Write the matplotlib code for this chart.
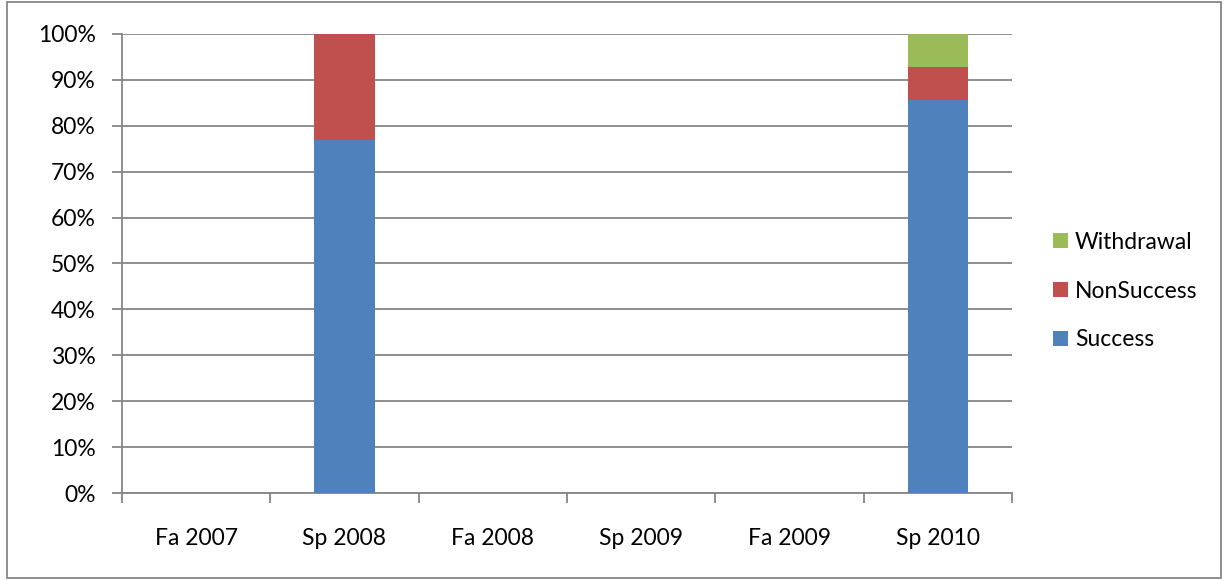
import numpy as np
import matplotlib
matplotlib.use("Agg")
import matplotlib.pyplot as plt
from matplotlib.patches import Rectangle
from matplotlib.ticker import PercentFormatter

terms = ["Fa 2007", "Sp 2008", "Fa 2008", "Sp 2009", "Fa 2009", "Sp 2010"]
success = [0, 76.9, 0, 0, 0, 85.7]
nonsuccess = [0, 23.1, 0, 0, 0, 7.1]
withdrawal = [0, 0, 0, 0, 0, 7.2]

plt.rcParams["font.family"] = ["Lato", "DejaVu Sans"]
grid_col = "#868686"
fs = 16.5

fig = plt.figure(figsize=(12.27, 5.80), dpi=100)
ax = fig.add_axes([0.0994, 0.15, 0.7254, 0.7914])

x = np.arange(len(terms))
w = 0.405
b1 = ax.bar(x, success, w, color="#4F81BD", label="Success", zorder=3)
b2 = ax.bar(x, nonsuccess, w, bottom=success, color="#C0504D",
            label="NonSuccess", zorder=3)
bottom3 = np.array(success) + np.array(nonsuccess)
b3 = ax.bar(x, withdrawal, w, bottom=bottom3, color="#9BBB59",
            label="Withdrawal", zorder=3)

ax.set_xlim(-0.5, len(terms) - 0.5)
ax.set_ylim(0, 100)
ax.set_yticks(np.arange(0, 101, 10))
ax.yaxis.set_major_formatter(PercentFormatter(decimals=0))
ax.grid(axis="y", color=grid_col, linewidth=1.3, zorder=0)

ax.set_xticks(x)
ax.set_xticklabels(terms)
ax.set_xticks(np.arange(-0.5, len(terms), 1), minor=True)
ax.tick_params(axis="x", which="major", length=0, pad=25, labelsize=fs)
ax.tick_params(axis="x", which="minor", length=7, color=grid_col, width=1.3)
ax.tick_params(axis="y", length=7, color=grid_col, width=1.3, labelsize=fs, pad=12)

for s in ["top", "right"]:
    ax.spines[s].set_visible(False)
for s in ["left", "bottom"]:
    ax.spines[s].set_color(grid_col)
    ax.spines[s].set_linewidth(1.3)

handles = [b3, b2, b1]
ax.legend(handles, [h.get_label() for h in handles], frameon=False,
          loc="center left", bbox_to_anchor=(1.046, 0.44), fontsize=fs,
          borderaxespad=0, borderpad=0,
          handlelength=0.65, handleheight=0.65, handletextpad=0.3,
          labelspacing=1.22)

fig.patches.append(Rectangle((0.006, 0.003), 0.989, 0.993, transform=fig.transFigure,
                             fill=False, edgecolor=grid_col, linewidth=1.3))

fig.savefig("out.png", dpi=100)
